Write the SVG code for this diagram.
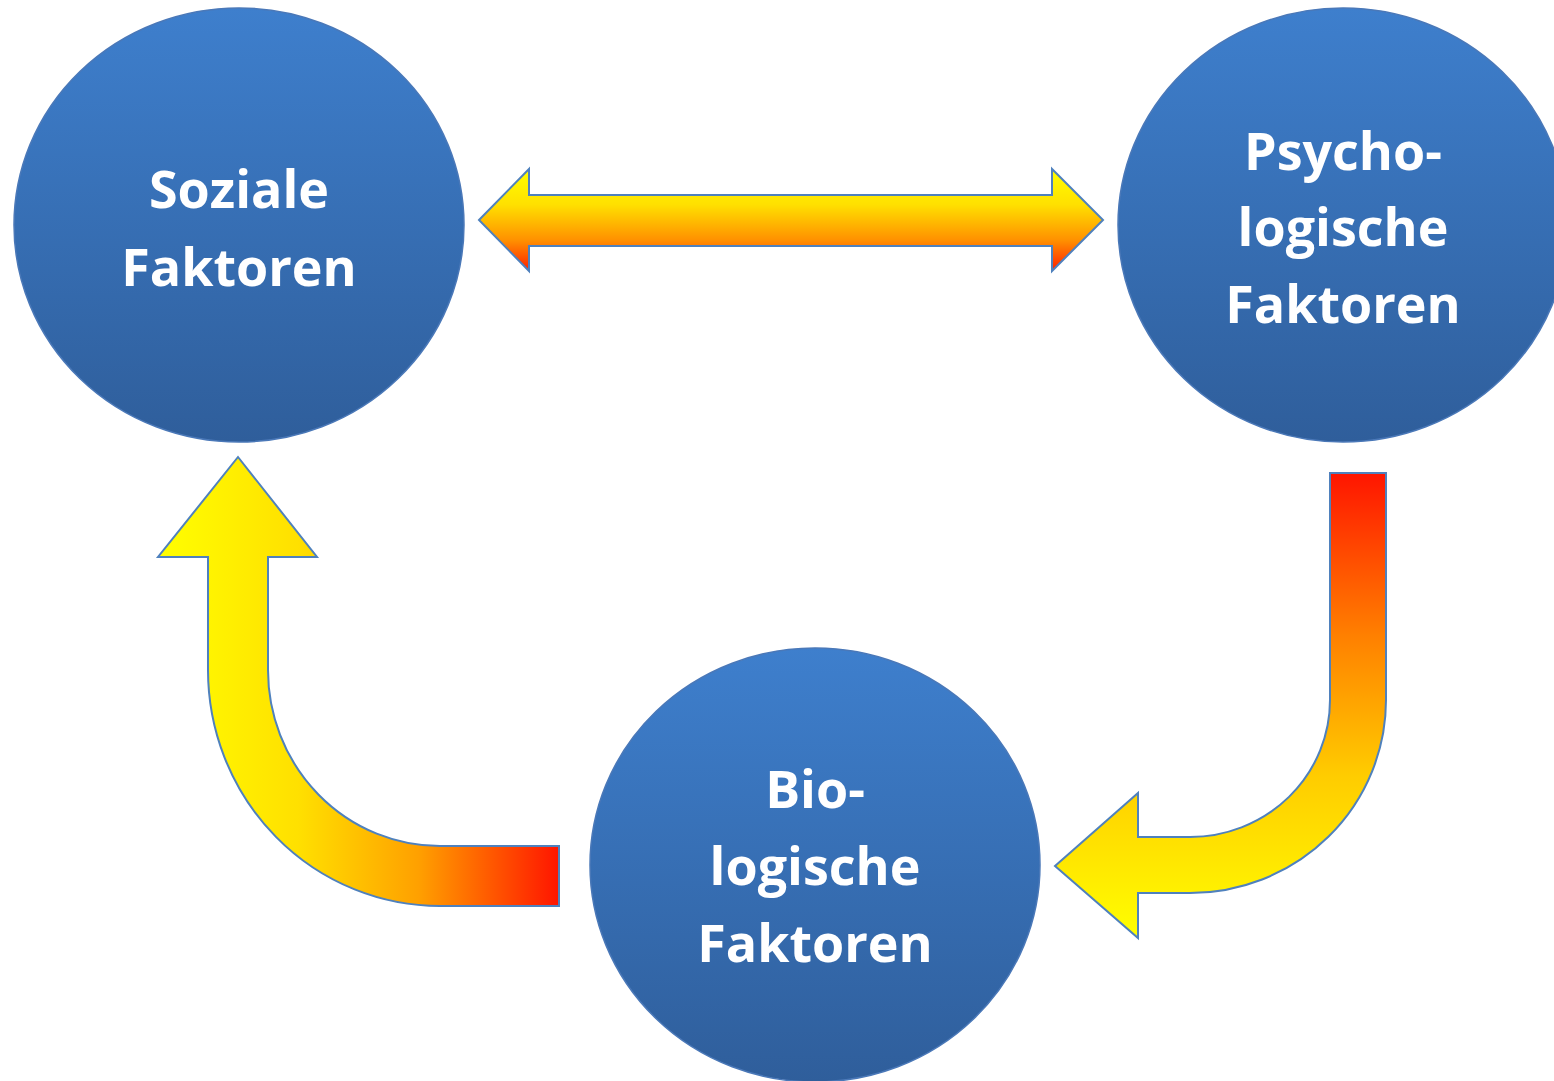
<svg xmlns="http://www.w3.org/2000/svg" width="1554" height="1081" viewBox="0 0 1554 1081">
<style>
.node{fill:url(#blue);stroke:#4a78b8;stroke-width:1.5}
.lbl{fill:#ffffff;font-family:"Open Sans","Liberation Sans",sans-serif;font-weight:bold;font-size:52px;text-anchor:middle}
.arr{stroke:#4f81bd;stroke-width:2;stroke-linejoin:miter}
</style>
<defs>
<linearGradient id="blue" x1="0" y1="0" x2="0" y2="1">
<stop offset="0" stop-color="#3e7fcd"/>
<stop offset="1" stop-color="#2f5e9b"/>
</linearGradient>
<linearGradient id="dbl" x1="0" y1="0" x2="0" y2="1">
<stop offset="0" stop-color="#ffff00"/>
<stop offset="0.35" stop-color="#ffe000"/>
<stop offset="0.7" stop-color="#ff9000"/>
<stop offset="1" stop-color="#ff2000"/>
</linearGradient>
<linearGradient id="rgt" gradientUnits="userSpaceOnUse" x1="0" y1="473" x2="0" y2="938">
<stop offset="0" stop-color="#ff1500"/>
<stop offset="0.35" stop-color="#ff8000"/>
<stop offset="0.65" stop-color="#ffcc00"/>
<stop offset="1" stop-color="#ffff00"/>
</linearGradient>
<linearGradient id="lft" gradientUnits="userSpaceOnUse" x1="158" y1="0" x2="559" y2="0">
<stop offset="0" stop-color="#ffff00"/>
<stop offset="0.35" stop-color="#ffe000"/>
<stop offset="0.65" stop-color="#ffa000"/>
<stop offset="1" stop-color="#ff1500"/>
</linearGradient>
</defs>
<rect width="1554" height="1081" fill="#ffffff"/>
<g id="connectors">
<path class="arr" fill="url(#dbl)" d="M479,220 L529,169 L529,195 L1052,195 L1052,169 L1103,220 L1052,271 L1052,246 L529,246 L529,271 Z"/>
<path class="arr" fill="url(#rgt)" d="M1330,473 L1386,473 L1386,700 A196,193 0 0 1 1190,893 L1138,893 L1138,938 L1055,866 L1138,793 L1138,837 L1190,837 A140,137 0 0 0 1330,700 Z"/>
<path class="arr" fill="url(#lft)" d="M238,457 L317,557 L268,557 L268,670 A172,176 0 0 0 440,846 L559,846 L559,906 L440,906 A232,236 0 0 1 208,670 L208,557 L158,557 Z"/>
</g>
<g id="node-soziale">
<ellipse class="node" cx="239" cy="225" rx="225" ry="217"/>
<text class="lbl" x="239" y="208">Soziale</text>
<text class="lbl" x="239" y="286">Faktoren</text>
</g>
<g id="node-psycho">
<ellipse class="node" cx="1343" cy="225" rx="225" ry="217"/>
<text class="lbl" x="1343" y="170">Psycho-</text>
<text class="lbl" x="1343" y="246">logische</text>
<text class="lbl" x="1343" y="323">Faktoren</text>
</g>
<g id="node-bio">
<ellipse class="node" cx="815" cy="865" rx="225" ry="217"/>
<text class="lbl" x="815" y="808">Bio-</text>
<text class="lbl" x="815" y="885">logische</text>
<text class="lbl" x="815" y="962">Faktoren</text>
</g>
</svg>
